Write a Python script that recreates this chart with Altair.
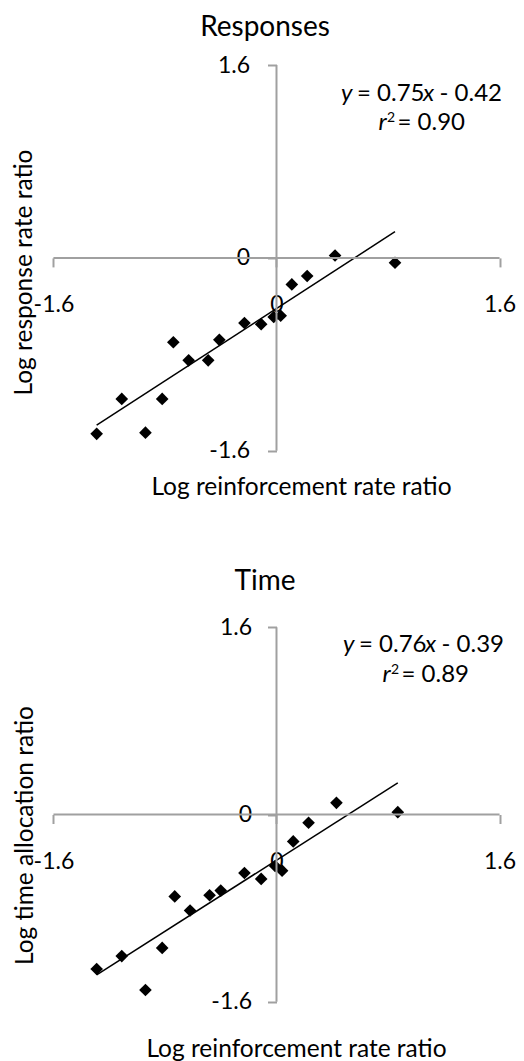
import altair as alt
import pandas as pd

# ---------------- data ----------------
resp_x = [-1.29, -1.11, -0.94, -0.82, -0.74, -0.63, -0.49, -0.41, -0.23, -0.11, -0.02, 0.03, 0.11, 0.22, 0.42, 0.85]
resp_y = [-1.46, -1.17, -1.45, -1.17, -0.70, -0.85, -0.85, -0.68, -0.54, -0.55, -0.49, -0.48, -0.22, -0.15, 0.02, -0.04]
time_x = [-1.29, -1.11, -0.94, -0.82, -0.73, -0.62, -0.48, -0.40, -0.23, -0.11, -0.01, 0.04, 0.12, 0.23, 0.43, 0.87]
time_y = [-1.32, -1.21, -1.50, -1.14, -0.70, -0.82, -0.69, -0.65, -0.50, -0.55, -0.44, -0.48, -0.23, -0.07, 0.10, 0.02]
resp_fit = [0.75, -0.42]   # slope, intercept
time_fit = [0.76, -0.39]
tick_values = [-1.6, 0, 1.6]
tick_labels = ["-1.6", "0", "1.6"]
panel_titles = ["Responses", "Time"]
y_titles = ["Log response rate ratio", "Log time allocation ratio"]
x_title = "Log reinforcement rate ratio"
resp_eq = ["y", "= 0.75", "x", "- 0.42"]
resp_r2 = ["r", "2", "= 0.90"]
time_eq = ["y", "= 0.76", "x", "- 0.39"]
time_r2 = ["r", "2", "= 0.89"]

# ---------------- style / layout ----------------
FONT = "Lato"
GRAY = "#a0a0a0"
W = 508
X_DOMAIN = [-1.926, 1.718]
X_ZERO_PX = 268.5
EQ_SIZE = 24

label_expr = " : ".join(
    f"datum.value == {v} ? '{t}'" for v, t in zip(tick_values[:-1], tick_labels[:-1])
) + f" : '{tick_labels[-1]}'"


def txt(text, px, py, size, style="normal", align="left"):
    return alt.Chart(pd.DataFrame({"t": [text]})).mark_text(
        font=FONT, fontSize=size, fontStyle=style, align=align,
        baseline="alphabetic", color="black"
    ).encode(text="t:N", x=alt.value(px), y=alt.value(py))


def panel(xs, ys, fit, title, ytitle, eq, r2, H, ydom, y0px, lay):
    pts = pd.DataFrame({"x": xs, "y": ys})
    lo, hi = min(xs), max(xs)
    fit_df = pd.DataFrame({"x": [lo, hi], "y": [fit[0] * lo + fit[1], fit[0] * hi + fit[1]]})
    xline = pd.DataFrame({"x": [min(tick_values)], "x2": [max(tick_values)], "y": [0]})
    yline = pd.DataFrame({"x": [0], "y": [min(tick_values)], "y2": [max(tick_values)]})

    xsc = alt.Scale(domain=X_DOMAIN, nice=False, zero=False)
    ysc = alt.Scale(domain=ydom, nice=False, zero=False)

    x_axis = alt.Axis(
        values=tick_values, labelExpr=label_expr, offset=-(H - y0px),
        domain=False, ticks=True, tickSize=9, tickColor=GRAY, tickWidth=2, grid=False,
        labelFont=FONT, labelFontSize=23, labelColor="black", labelBaseline="alphabetic",
        labelPadding=lay["xlabpad"], labelFlush=False, labelOverlap=False,
        title=x_title, titleFont=FONT, titleFontSize=24.5, titleFontWeight="normal",
        titleColor="black", titleX=lay["xtx"], titleY=lay["xty"],
        titleBaseline="alphabetic", titleAlign="center",
    )
    y_axis = alt.Axis(
        values=tick_values, labelExpr=label_expr, offset=-X_ZERO_PX,
        domain=False, ticks=True, tickSize=9, tickColor=GRAY, tickWidth=2, grid=False,
        labelFont=FONT, labelFontSize=23, labelColor="black", labelBaseline="middle",
        labelPadding=lay["ylabpad"], labelFlush=False, labelOverlap=False,
        title=ytitle, titleFont=FONT, titleFontSize=24.5, titleFontWeight="normal",
        titleColor="black", titleX=lay["ytx"], titleY=lay["yty"], titleAngle=270,
        titleBaseline="middle", titleAlign="center",
    )
    X = lambda: alt.X("x:Q", scale=xsc, axis=x_axis)
    Y = lambda: alt.Y("y:Q", scale=ysc, axis=y_axis)

    points = alt.Chart(pts).mark_point(
        shape="diamond", filled=True, color="black", size=160, opacity=1, strokeWidth=0
    ).encode(x=X(), y=Y())
    fitline = alt.Chart(fit_df).mark_line(color="black", strokeWidth=1.5).encode(x=X(), y=Y())
    xrule = alt.Chart(xline).mark_rule(color=GRAY, strokeWidth=2).encode(x=X(), x2="x2", y=Y())
    yrule = alt.Chart(yline).mark_rule(color=GRAY, strokeWidth=2).encode(x=X(), y=Y(), y2="y2")

    ex = lay["eqx"]
    rx = lay["r2x"]
    texts = [
        txt(title, lay["tx"], lay["ty"], 28, align="center"),
        txt(eq[0], ex[0], lay["eqy"], EQ_SIZE, style="italic"),
        txt(eq[1], ex[1], lay["eqy"], EQ_SIZE),
        txt(eq[2], ex[2], lay["eqy"], EQ_SIZE, style="italic"),
        txt(eq[3], ex[3], lay["eqy"], EQ_SIZE),
        txt(r2[0], rx[0], lay["r2y"], EQ_SIZE, style="italic"),
        txt(r2[1], rx[1], lay["r2y"] - 8, 14),
        txt(r2[2], rx[2], lay["r2y"], EQ_SIZE),
    ]
    return alt.layer(points, fitline, xrule, yrule, *texts).properties(width=W, height=H)


top = panel(
    resp_x, resp_y, resp_fit, panel_titles[0], y_titles[0], resp_eq, resp_r2,
    H=522, ydom=[-2.258, 2.074], y0px=249.9,
    lay=dict(xlabpad=45, ylabpad=18, xtx=293, xty=237, ytx=-252, yty=264,
             tx=257, ty=28, eqx=[333, 349, 415, 431.5], eqy=93,
             r2x=[370.5, 379, 389.5], r2y=122),
)
bottom = panel(
    time_x, time_y, time_fit, panel_titles[1], y_titles[1], time_eq, time_r2,
    H=530, ydom=[-2.098, 2.432], y0px=284.5,
    lay=dict(xlabpad=45, ylabpad=16, xtx=288, xty=242, ytx=-251.5, yty=305,
             tx=257, ty=60, eqx=[335, 351, 417, 433.5], eqy=122,
             r2x=[374.5, 383, 393.5], r2y=152),
)

chart = alt.vconcat(top, bottom, spacing=0).properties(
    padding=0, background="white"
).configure_view(stroke=None).configure_axis(grid=False)

chart.save("out.html", embed_options={"renderer": "svg", "actions": False})
